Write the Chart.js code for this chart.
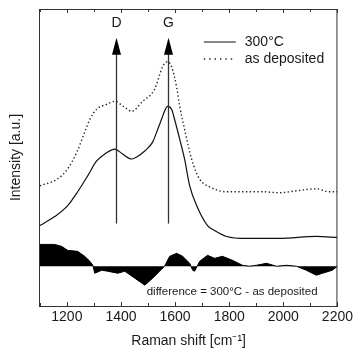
<!DOCTYPE html>
<html>
<head>
<meta charset="utf-8">
<script src="https://cdn.jsdelivr.net/npm/chart.js@4.4.1/dist/chart.umd.min.js"></script>
<style>
  html, body { margin: 0; padding: 0; background: #fff; }
  #wrap { width: 355px; height: 350px; }
</style>
</head>
<body>
<div id="wrap"><canvas id="c"></canvas></div>
<script>
// Raman spectra (shift in cm^-1, intensity in arb. units)
const annealedShift = [1100, 1155, 1203, 1240, 1277, 1310, 1340, 1377, 1406, 1440, 1458, 1488, 1517, 1536, 1550, 1561, 1572, 1587, 1598, 1617, 1635, 1654, 1680, 1720, 1746, 1790, 1864, 1986, 2122, 2200];
const annealedInt = [81, 90, 101, 115, 131, 146, 153, 158, 153, 148, 150, 156, 165, 178, 188, 196, 201, 198, 188, 168, 148, 121, 101, 81, 76, 70, 68, 68, 70, 69];

const depositedShift = [1100, 1166, 1203, 1237, 1266, 1285, 1310, 1347, 1377, 1414, 1440, 1480, 1524, 1554, 1572, 1587, 1606, 1617, 1635, 1661, 1690, 1727, 1790, 1864, 1923, 1986, 2049, 2122, 2170, 2200];
const depositedInt = [121, 128, 138, 155, 175, 188, 198, 203, 206, 200, 196, 206, 218, 241, 246, 241, 220, 201, 178, 148, 128, 120, 115, 115, 115, 114, 116, 118, 115, 115];

const diffShift = [1100, 1155, 1181, 1203, 1240, 1266, 1285, 1296, 1303, 1329, 1351, 1388, 1414, 1451, 1488, 1517, 1543, 1561, 1580, 1606, 1628, 1654, 1665, 1672, 1691, 1720, 1746, 1775, 1812, 1849, 1875, 1901, 1938, 1975, 2012, 2049, 2085, 2122, 2145, 2181, 2200];
const diffInt = [62, 62, 60, 56, 55, 50, 45, 41, 33, 36, 35, 33, 35, 28, 21, 28, 35, 40, 50, 53, 50, 43, 36, 35, 45, 51, 48, 50, 46, 41, 40, 41, 43, 40, 41, 40, 36, 31, 33, 36, 40];
const diffBaseline = 40;

// peak markers
const peakNames = ['D', 'G'];
const peakShift = [1380, 1572];
const arrowFrom = 83;
const arrowTo = 270;

const seriesNames = ['300°C', 'as deposited'];
const diffLabel = 'difference = 300°C - as deposited';

const FONT = "'Liberation Sans', Arial, Helvetica, sans-serif";
const INK = '#1a1a1a';

function pairs(xs, ys) {
  return xs.map((x, i) => ({ x: x, y: ys[i] }));
}

const decorPlugin = {
  id: 'decor',
  afterDatasetsDraw(chart) {
    const { ctx, chartArea: a, scales: { x, y } } = chart;
    ctx.save();

    // top and right frame, inward ticks on both horizontal edges
    ctx.strokeStyle = '#333';
    ctx.lineWidth = 1;
    ctx.beginPath();
    ctx.moveTo(a.left, a.top + 0.5);
    ctx.lineTo(a.right, a.top + 0.5);
    ctx.moveTo(a.right - 0.5, a.top);
    ctx.lineTo(a.right - 0.5, a.bottom);
    x.ticks.forEach(t => {
      const px = Math.round(x.getPixelForValue(t.value)) + 0.5;
      const len = t.value % 200 === 0 ? 4 : 3;
      ctx.moveTo(px, a.bottom);
      ctx.lineTo(px, a.bottom - len);
      ctx.moveTo(px, a.top);
      ctx.lineTo(px, a.top + len);
    });
    ctx.stroke();

    // D / G arrows
    const yb = y.getPixelForValue(arrowFrom);
    const yt = y.getPixelForValue(arrowTo);
    ctx.font = '14px ' + FONT;
    ctx.textAlign = 'center';
    ctx.textBaseline = 'middle';
    peakShift.forEach((p, i) => {
      const px = Math.round(x.getPixelForValue(p)) + 0.5;
      ctx.strokeStyle = '#333';
      ctx.lineWidth = 1.3;
      ctx.beginPath();
      ctx.moveTo(px, yb);
      ctx.lineTo(px, yt + 14);
      ctx.stroke();
      ctx.fillStyle = '#000';
      ctx.beginPath();
      ctx.moveTo(px, yt);
      ctx.lineTo(px - 4.5, yt + 17);
      ctx.lineTo(px + 4.5, yt + 17);
      ctx.closePath();
      ctx.fill();
      ctx.fillStyle = INK;
      ctx.fillText(peakNames[i], px, yt - 15);
    });

    // legend
    const lx = a.left + 164;
    const rows = [a.top + 33, a.top + 50];
    ctx.strokeStyle = '#111';
    ctx.lineWidth = 1.2;
    ctx.beginPath();
    ctx.moveTo(lx, rows[0]);
    ctx.lineTo(lx + 32, rows[0]);
    ctx.stroke();
    ctx.strokeStyle = '#222';
    ctx.lineWidth = 1.4;
    ctx.setLineDash([1.4, 4]);
    ctx.beginPath();
    ctx.moveTo(lx, rows[1]);
    ctx.lineTo(lx + 32, rows[1]);
    ctx.stroke();
    ctx.setLineDash([]);
    ctx.fillStyle = INK;
    ctx.font = '14px ' + FONT;
    ctx.textAlign = 'left';
    ctx.fillText(seriesNames[0], lx + 41, rows[0]);
    ctx.fillText(seriesNames[1], lx + 41, rows[1]);

    // difference caption
    ctx.font = '11.5px ' + FONT;
    ctx.fillText(diffLabel, x.getPixelForValue(1495), y.getPixelForValue(14));

    ctx.restore();
  }
};

new Chart(document.getElementById('c'), {
  type: 'line',
  data: {
    datasets: [
      {
        label: 'difference',
        data: pairs(diffShift, diffInt),
        borderColor: '#000',
        backgroundColor: '#000',
        borderWidth: 1,
        pointRadius: 0,
        tension: 0,
        fill: { value: diffBaseline }
      },
      {
        label: seriesNames[1],
        data: pairs(depositedShift, depositedInt),
        borderColor: '#222',
        borderWidth: 1.4,
        borderDash: [1.4, 2.4],
        pointRadius: 0,
        cubicInterpolationMode: 'monotone',
        fill: false
      },
      {
        label: seriesNames[0],
        data: pairs(annealedShift, annealedInt),
        borderColor: '#111',
        borderWidth: 1.2,
        pointRadius: 0,
        cubicInterpolationMode: 'monotone',
        fill: false
      }
    ]
  },
  options: {
    responsive: true,
    maintainAspectRatio: false,
    animation: false,
    layout: { padding: { left: 8, right: 17, top: 9, bottom: 2 } },
    plugins: {
      legend: { display: false },
      tooltip: { enabled: false }
    },
    scales: {
      x: {
        type: 'linear',
        min: 1100,
        max: 2200,
        // invisible tick marks keep the labels off the axis without widening the right gutter
        grid: { drawOnChartArea: false, drawTicks: true, tickLength: 2, color: 'rgba(0,0,0,0)' },
        border: { color: '#333', width: 1 },
        ticks: {
          stepSize: 100,
          padding: 2,
          autoSkip: false,
          maxRotation: 0,
          color: INK,
          font: { family: FONT, size: 14, lineHeight: 1 },
          callback: v => (v % 200 === 0 ? String(v) : '')
        },
        title: {
          display: true,
          text: 'Raman shift [cm⁻¹]',
          color: INK,
          font: { family: FONT, size: 14, lineHeight: 1 },
          padding: { top: 8, bottom: 0 }
        }
      },
      y: {
        min: 0,
        max: 299,
        grid: { drawOnChartArea: false, drawTicks: false },
        border: { color: '#333', width: 1 },
        ticks: { display: false },
        title: {
          display: true,
          text: 'Intensity [a.u.]',
          color: INK,
          font: { family: FONT, size: 14 },
          padding: { top: 0, bottom: 15 }
        }
      }
    }
  },
  plugins: [decorPlugin]
});
</script>
</body>
</html>
